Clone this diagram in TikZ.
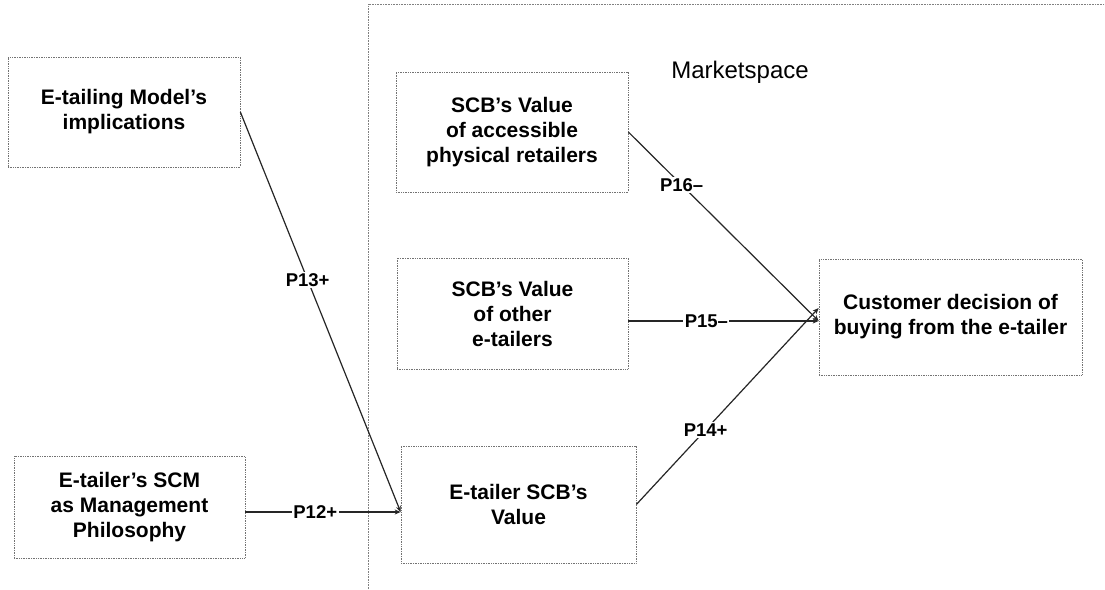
\documentclass[tikz,border=0pt]{standalone}
\usepackage{fontspec}
\setmainfont{Liberation Sans}
\usetikzlibrary{arrows.meta}
\begin{document}
\begin{tikzpicture}[x=1pt,y=-1pt,
  box/.style={draw=black!55, densely dotted, line width=0.7pt, inner sep=0pt, align=center,
    font=\bfseries\fontsize{21}{25}\selectfont},
  conn/.style={draw=black!85, line width=1.2pt, -{Stealth[length=6pt,width=5pt]}},
  lbl/.style={fill=white, inner sep=1.5pt, font=\bfseries\fontsize{18.5}{22}\selectfont},
  region/.style={draw=black!50, densely dotted, line width=0.6pt}]
\useasboundingbox[fill=white] (0,0) rectangle (1105,589);
% Marketspace region
\coordinate (rb) at (368,589);
\coordinate (rc) at (368,4);
\coordinate (rr) at (1105,4);
\draw[region] (rb) -- (rc) -- (rr);
\node[font=\fontsize{24}{28}\selectfont] (ms) at (740,72) {Marketspace};
% boxes
\node[box, minimum width=232pt, minimum height=110pt] (b1) at (124,112) {E-tailing Model’s\\implications};
\node[box, minimum width=231pt, minimum height=102pt] (b2) at (129.5,507) {E-tailer’s SCM\\as Management\\Philosophy};
\node[box, minimum width=232pt, minimum height=120pt] (b3) at (512,132) {SCB’s Value\\of accessible\\physical retailers};
\node[box, minimum width=231pt, minimum height=111pt] (b4) at (512.5,313.5) {SCB’s Value\\of other\\e-tailers};
\node[box, minimum width=235pt, minimum height=117pt] (b5) at (518.5,504.5) {E-tailer SCB’s\\Value};
\node[box, minimum width=263pt, minimum height=116pt] (cu) at (950.5,317) {Customer decision of\\buying from the e-tailer};
% entry points
\coordinate (in5) at ([yshift=-7.5pt]b5.west);
\coordinate (inC) at ([yshift=-4pt]cu.west);
\coordinate (inC2) at ([yshift=9pt]cu.west);
% connectors
\draw[conn] (b1.east) -- node[lbl, pos=0.42] {P13+} (in5);
\draw[conn] (b2.east |- in5) -- node[lbl, pos=0.45] {P12+} (in5);
\draw[conn] (b3.east) -- node[lbl, pos=0.28] {P16–} (inC);
\draw[conn] (b4.east |- inC) -- node[lbl, pos=0.41] {P15–} (inC);
\draw[conn] (b5.east) -- node[lbl, pos=0.38] {P14+} (inC2);
\end{tikzpicture}
\end{document}
